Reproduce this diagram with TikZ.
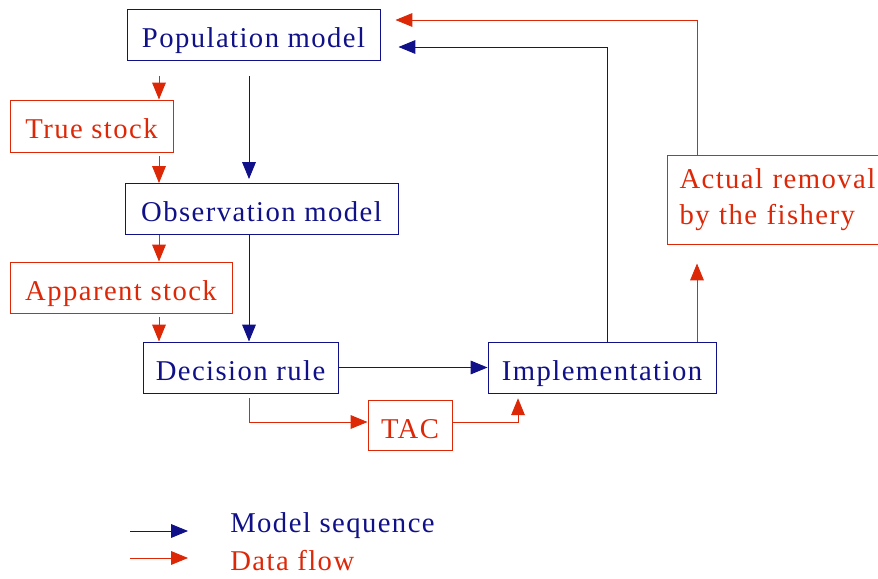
\documentclass[tikz,border=0pt]{standalone}
\usepackage{fontspec}
\setmainfont{Liberation Serif}[LetterSpace=5]
\usetikzlibrary{arrows.meta, positioning}
\definecolor{miNavy}{RGB}{16, 16, 136}
\definecolor{miRojo}{RGB}{221, 40, 8}

\begin{document}
\begin{tikzpicture}[
  every node/.style={font=\fontsize{20.4}{25.5}\selectfont, inner xsep=0.3cm, inner ysep=0pt},
  mbox/.style={draw=miNavy, line width=0.7pt, text=miNavy, minimum height=1.275cm, text height=0.65cm, text depth=0pt},
  dbox/.style={draw=miRojo, line width=0.7pt, text=miRojo, minimum height=1.275cm, text height=0.65cm, text depth=0pt},
  marrow/.style={-{Triangle[length=4.2mm, width=3.4mm]}, line width=0.6pt, miNavy},
  darrow/.style={-{Triangle[length=4.2mm, width=3.4mm]}, line width=0.6pt, miRojo}
]
\useasboundingbox (0,0) rectangle (21.95,-14.475);

\node[mbox, minimum width=6.325cm] (pop) at (6.3375,-0.875) {Population model};
\node[dbox, minimum width=4.075cm, minimum height=1.3cm] (true) at (2.2875,-3.15) {True stock};
\node[mbox, minimum width=6.825cm] (obs) at (6.5375,-5.225) {Observation model};
\node[dbox, minimum width=5.55cm] (app) at (3.025,-7.1875) {Apparent stock};
\node[mbox, minimum width=4.875cm] (dec) at (6.0125,-9.1875) {Decision rule};
\node[dbox, minimum width=2.1cm, minimum height=1.25cm] (tac) at (10.25,-10.625) {TAC};
\node[mbox, minimum width=5.7cm] (imp) at (15.05,-9.1875) {Implementation};
\node[draw=miRojo, line width=0.7pt, text=miRojo, anchor=west, text width=5.3cm, align=left, minimum height=2.225cm] (act) at (16.675,-4.9875) {Actual removal\\by the fishery};

% columns of the vertical connectors
\coordinate (rx) at (3.975,0);
\coordinate (bx) at (6.225,0);
\coordinate (tx) at (12.95,0);
\coordinate (ux) at (15.175,0);
\coordinate (vx) at (17.425,0);

\draw[darrow, shorten <=3.75mm] (pop.south -| rx) -- (true.north -| rx);
\draw[darrow, shorten <=1mm] (true.south -| rx) -- (obs.north -| rx);
\draw[marrow, shorten <=3.75mm, shorten >=1mm] (pop.south -| bx) -- (obs.north -| bx);
\draw[darrow] (obs.south -| rx) -- (app.north -| rx);
\draw[marrow] (obs.south -| bx) -- (dec.north -| bx);
\draw[darrow, shorten <=1mm] (app.south -| rx) -- (dec.north -| rx);
\draw[marrow] (dec.east) -- (imp.west);
\draw[darrow, shorten <=1.2mm] (dec.south -| bx) |- ([yshift=0.075cm]tac.west);
\draw[darrow, shorten >=1.2mm] ([yshift=0.075cm]tac.east) -| (imp.south -| tx);
\draw[marrow, shorten >=4.5mm] (imp.north -| ux) |- ([yshift=-0.3cm]pop.east);
\draw[darrow, shorten >=4.75mm] (imp.north -| vx) -- (act.south -| vx);
\draw[darrow, shorten >=3.75mm] (act.north -| vx) |- ([yshift=0.375cm]pop.east);

% legend
\coordinate (lm0) at (3.25,-13.275);
\coordinate (lm1) at (4.7,-13.275);
\coordinate (ld0) at (3.25,-13.95);
\coordinate (ld1) at (4.7,-13.95);
\draw[marrow] (lm0) -- (lm1);
\draw[darrow] (ld0) -- (ld1);
\node[anchor=base west, inner xsep=0pt, text=miNavy] (lmt) at (5.75,-13.3) {Model sequence};
\node[anchor=base west, inner xsep=0pt, text=miRojo] (ldt) at (5.75,-14.25) {Data flow};
\end{tikzpicture}
\end{document}
